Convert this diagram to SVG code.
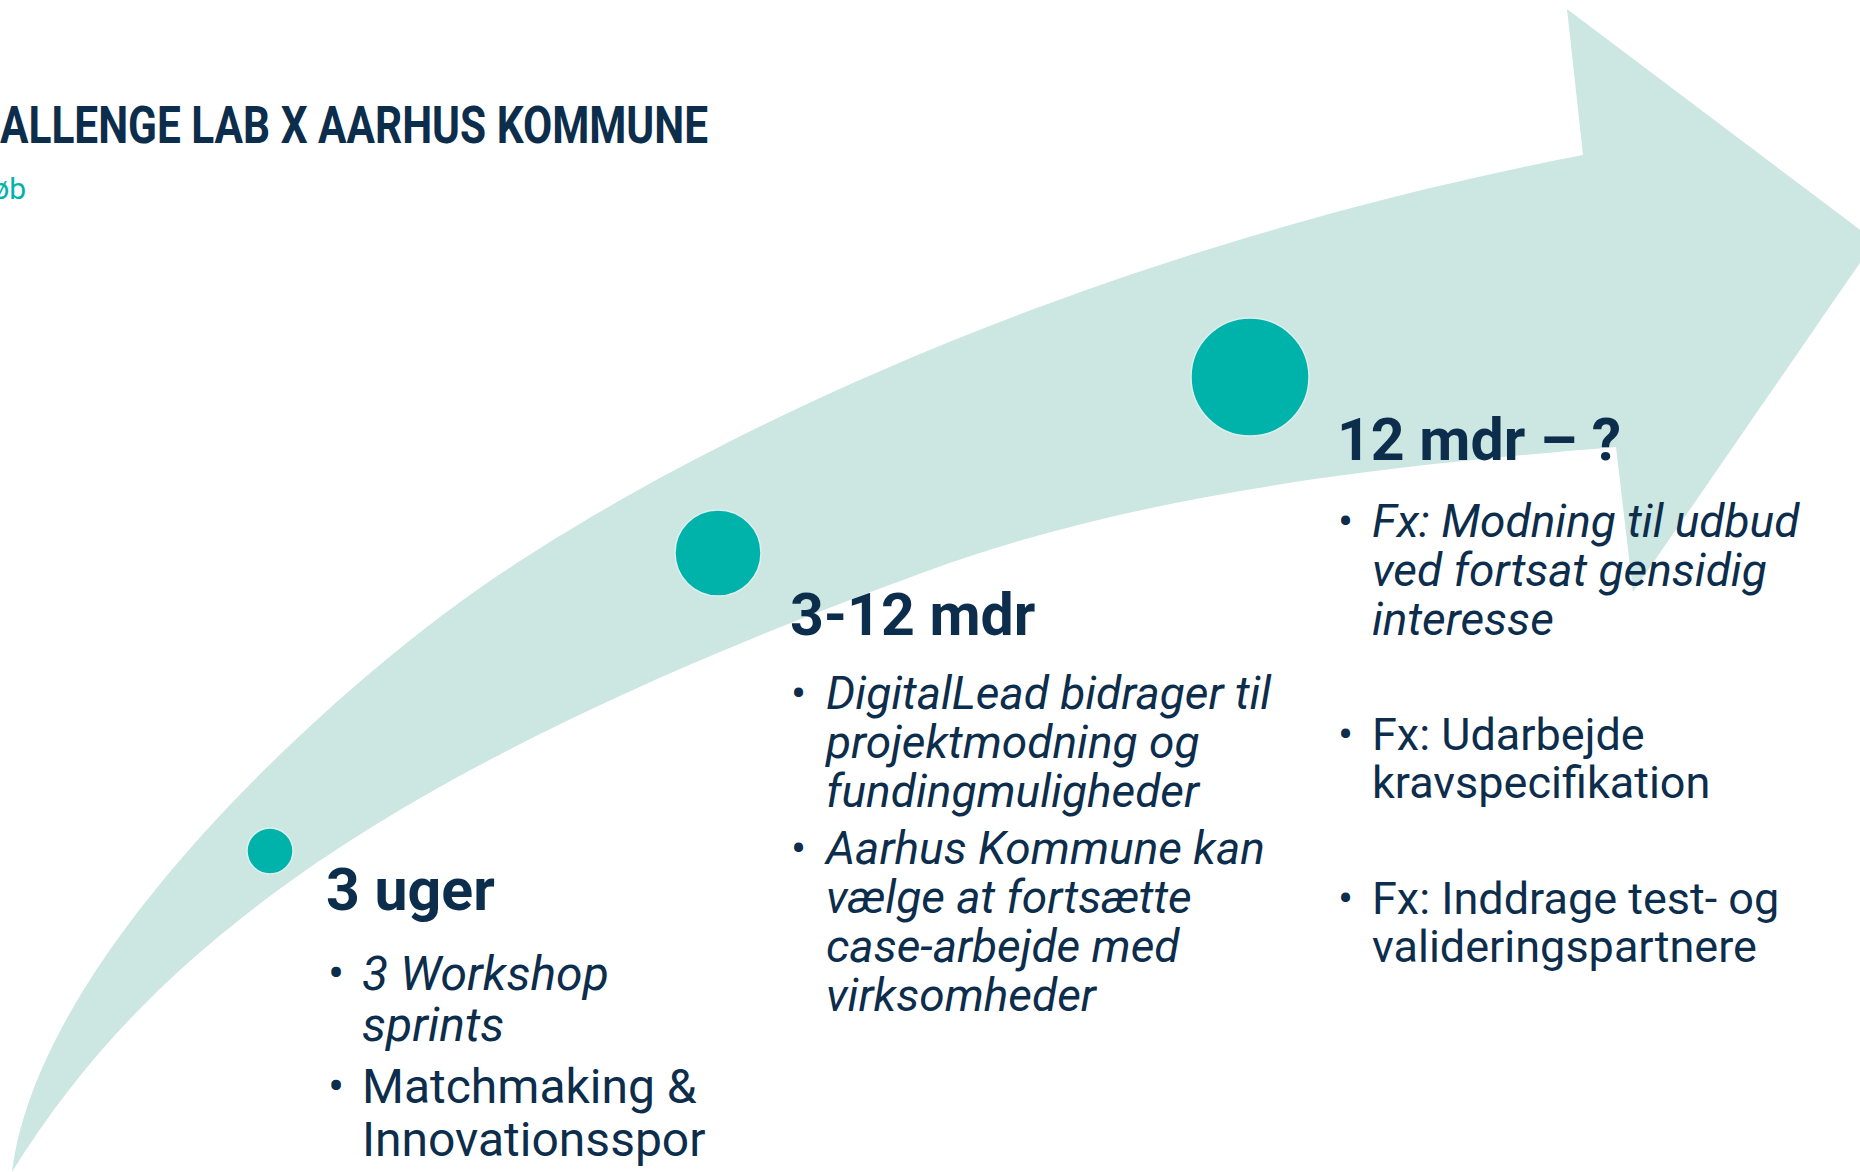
<svg xmlns="http://www.w3.org/2000/svg" width="1860" height="1172" viewBox="0 0 1860 1172">
<style>
.t{font-family:Roboto,"Liberation Sans",sans-serif;fill:#0C2D4B}
.h{font-weight:700;font-size:59px}
.b{font-size:48px}
.m{font-size:45px}
.mi{font-size:46px;font-style:italic}
.i{font-style:italic}
.dot{fill:#00B3AA;stroke:#DDF0EE;stroke-width:1.5}
</style>
<rect width="1860" height="1172" fill="#FFFFFF"/>
<g id="arrow">
<path fill="#CCE6E2" d="M12,1172 C39,956 323,701 463,600 C650,465 1050,258 1583,155 L1567,9 L1875,241 L1633,592 L1616,447 C1400,465 1150,490 930,570 C384,769 150,949 12,1172 Z"/>
</g>
<g id="title">
<text class="t" x="0" y="143" font-size="51" font-weight="700" textLength="708" lengthAdjust="spacingAndGlyphs">ALLENGE LAB X AARHUS KOMMUNE</text>
<text x="26" y="199" text-anchor="end" font-family="Roboto,'Liberation Sans',sans-serif" font-size="30" fill="#00B3AA">øb</text>
</g>
<g id="connectors"></g>
<g id="node-3uger">
<circle class="dot" cx="270" cy="851" r="23"/>
<text class="t h" x="326" y="910">3 uger</text>
<text class="t b" x="328" y="990">•</text>
<text class="t b i" x="362" y="990">3 Workshop</text>
<text class="t b i" x="362" y="1041">sprints</text>
<text class="t b" x="328" y="1103">•</text>
<text class="t b" x="362" y="1103">Matchmaking &amp;</text>
<text class="t b" x="362" y="1156">Innovationsspor</text>
</g>
<g id="node-3-12mdr">
<circle class="dot" cx="718" cy="553" r="43"/>
<text class="t h" x="790" y="635">3-12 mdr</text>
<text class="t m" x="791" y="709">•</text>
<text class="t mi" x="826" y="709">DigitalLead bidrager til</text>
<text class="t mi" x="826" y="758">projektmodning og</text>
<text class="t mi" x="826" y="807">fundingmuligheder</text>
<text class="t m" x="791" y="864">•</text>
<text class="t mi" x="826" y="864">Aarhus Kommune kan</text>
<text class="t mi" x="826" y="913">vælge at fortsætte</text>
<text class="t mi" x="826" y="962">case-arbejde med</text>
<text class="t mi" x="826" y="1011">virksomheder</text>
</g>
<g id="node-12mdr">
<circle class="dot" cx="1250" cy="377" r="59"/>
<text class="t h" x="1337" y="460">12 mdr – ?</text>
<text class="t m" x="1338" y="537">•</text>
<text class="t mi" x="1372" y="537">Fx: Modning til udbud</text>
<text class="t mi" x="1372" y="586">ved fortsat gensidig</text>
<text class="t mi" x="1372" y="635">interesse</text>
<text class="t m" x="1338" y="750">•</text>
<text class="t m" x="1372" y="750">Fx: Udarbejde</text>
<text class="t m" x="1372" y="798">kravspecifikation</text>
<text class="t m" x="1338" y="914">•</text>
<text class="t m" x="1372" y="914">Fx: Inddrage test- og</text>
<text class="t m" x="1372" y="962">valideringspartnere</text>
</g>
</svg>
